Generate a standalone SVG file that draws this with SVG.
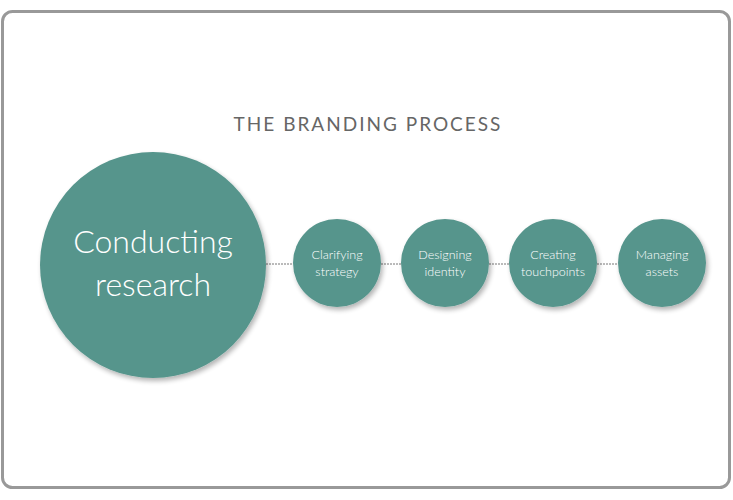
<svg xmlns="http://www.w3.org/2000/svg" width="733" height="500" viewBox="0 0 733 500">
<defs>
<filter id="sh" x="-20%" y="-20%" width="140%" height="140%">
<feGaussianBlur in="SourceAlpha" stdDeviation="2.5"/>
<feOffset dx="2" dy="3" result="b"/>
<feComponentTransfer><feFuncA type="linear" slope="0.3"/></feComponentTransfer>
<feMerge><feMergeNode/><feMergeNode in="SourceGraphic"/></feMerge>
</filter>
</defs>
<style>
.node{fill:#57958c;filter:url(#sh)}
.lbl{font-family:Lato,"Open Sans",sans-serif;fill:#fff;text-anchor:middle;font-weight:300}
.sm{font-size:12.5px}
.big{font-size:32px}
.conn{stroke:#777;stroke-width:1;stroke-dasharray:2 1;fill:none}
</style>
<rect x="2.5" y="11.5" width="727" height="476" rx="10" fill="#fff" stroke="#999" stroke-width="3"/>
<text x="368" y="131" font-family="Lato,'Open Sans',sans-serif" font-size="19" fill="#666" text-anchor="middle" letter-spacing="2">THE BRANDING PROCESS</text>
<g id="connectors">
<line class="conn" x1="266" y1="264" x2="293" y2="264"/>
<line class="conn" x1="381" y1="264" x2="401" y2="264"/>
<line class="conn" x1="489" y1="264" x2="509" y2="264"/>
<line class="conn" x1="597" y1="264" x2="618" y2="264"/>
</g>
<g id="n1"><circle class="node" cx="153" cy="265" r="113"/>
<text class="lbl big" x="153" y="253">Conducting</text><text class="lbl big" x="153" y="296">research</text></g>
<g id="n2"><circle class="node" cx="337" cy="263" r="44"/>
<text class="lbl sm" x="337" y="259">Clarifying</text><text class="lbl sm" x="337" y="276">strategy</text></g>
<g id="n3"><circle class="node" cx="445" cy="263" r="44"/>
<text class="lbl sm" x="445" y="259">Designing</text><text class="lbl sm" x="445" y="276">identity</text></g>
<g id="n4"><circle class="node" cx="553" cy="263" r="44"/>
<text class="lbl sm" x="553" y="259">Creating</text><text class="lbl sm" x="553" y="276">touchpoints</text></g>
<g id="n5"><circle class="node" cx="662" cy="263" r="44"/>
<text class="lbl sm" x="662" y="259">Managing</text><text class="lbl sm" x="662" y="276">assets</text></g>
</svg>
